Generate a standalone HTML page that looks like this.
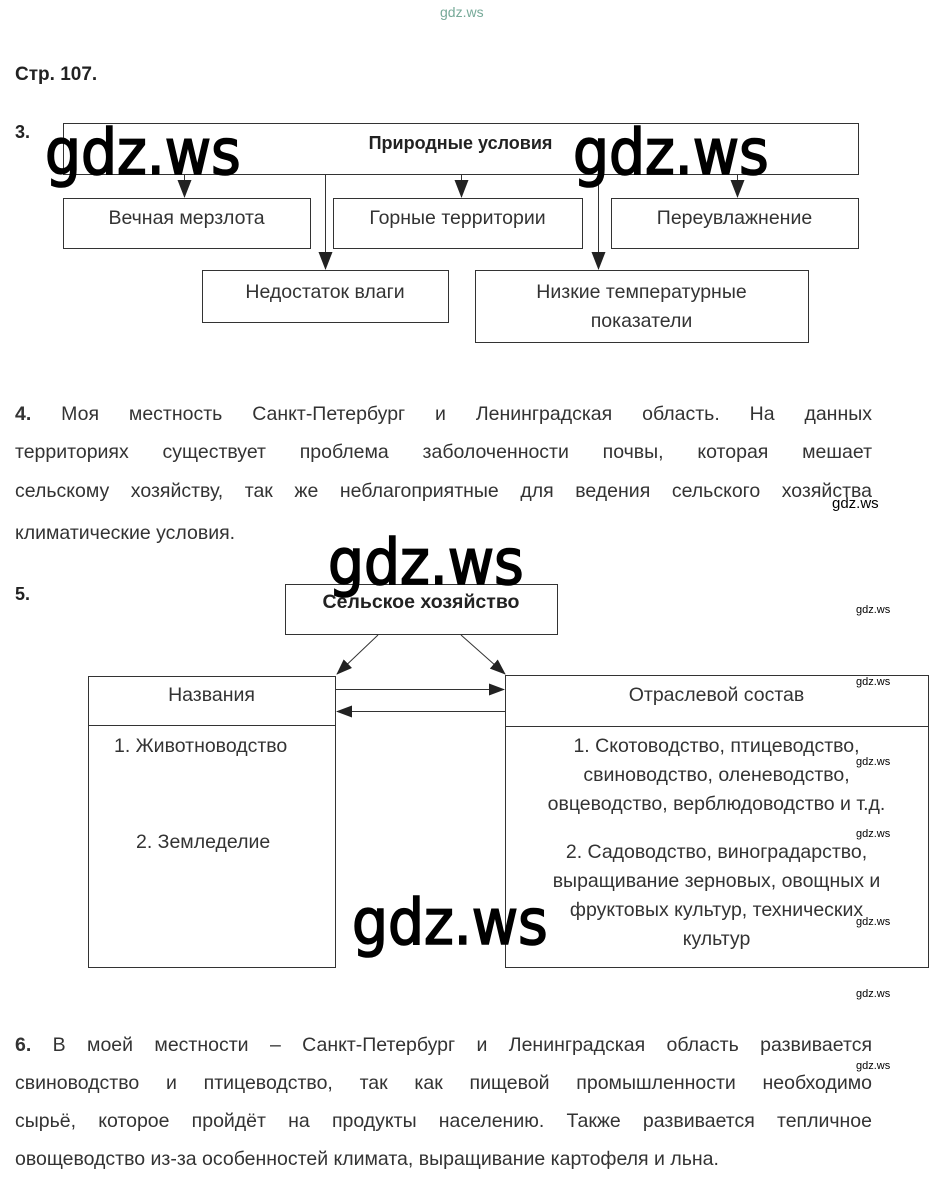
<!DOCTYPE html>
<html><head><meta charset="utf-8"><style>
body{margin:0;width:936px;height:1186px;background:#fff;position:relative;overflow:hidden;font-family:"Liberation Sans",sans-serif;color:#222}
.a{position:absolute;white-space:nowrap}
.t{font-size:19.5px;color:#333}
.j{position:absolute;left:15px;width:857px;font-size:19.5px;color:#333;text-align:justify;text-align-last:justify;white-space:nowrap;line-height:22px}
.c{position:absolute;text-align:center;font-size:19.5px;color:#333;line-height:29px}
.wm{position:absolute;font-size:63px;color:#000;line-height:1;font-family:"DejaVu Sans Condensed","Liberation Sans Narrow","Liberation Sans",sans-serif;-webkit-text-stroke:1.6px #000}
.sw{position:absolute;font-size:11px;color:#000;font-family:"Liberation Sans",sans-serif}
</style></head><body>
<svg class="a" style="left:0;top:0" width="936" height="1186">
<defs><marker id="ar" markerWidth="14" markerHeight="18" refX="7" refY="17" orient="0" markerUnits="userSpaceOnUse"><path d="M0,0 L14,0 L7,18z" fill="#222"/></marker>
<marker id="ar2" markerWidth="16" markerHeight="12" refX="15" refY="6" orient="auto" markerUnits="userSpaceOnUse"><path d="M0,0 L16,6 L0,12z" fill="#222"/></marker></defs>
<g fill="none" stroke="#333" stroke-width="1">
<rect x="63.5" y="123.5" width="795" height="51"/>
<rect x="63.5" y="198.5" width="247" height="50"/>
<rect x="333.5" y="198.5" width="249" height="50"/>
<rect x="611.5" y="198.5" width="247" height="50"/>
<rect x="202.5" y="270.5" width="246" height="52"/>
<rect x="475.5" y="270.5" width="333" height="72"/>
<line x1="184.5" y1="175" x2="184.5" y2="197" marker-end="url(#ar)"/>
<line x1="461.5" y1="175" x2="461.5" y2="197" marker-end="url(#ar)"/>
<line x1="737.5" y1="175" x2="737.5" y2="197" marker-end="url(#ar)"/>
<line x1="325.5" y1="175" x2="325.5" y2="269" marker-end="url(#ar)"/>
<line x1="598.5" y1="175" x2="598.5" y2="269" marker-end="url(#ar)"/>
<rect x="285.5" y="584.5" width="272" height="50"/>
<rect x="88.5" y="676.5" width="247" height="291"/>
<line x1="88" y1="725.5" x2="336" y2="725.5"/>
<rect x="505.5" y="675.5" width="423" height="292"/>
<line x1="505" y1="726.5" x2="929" y2="726.5"/>
<line x1="378" y1="635" x2="337" y2="674" marker-end="url(#ar2)"/>
<line x1="461" y1="635" x2="505" y2="674" marker-end="url(#ar2)"/>
<line x1="336" y1="689.5" x2="504" y2="689.5" marker-end="url(#ar2)"/>
<line x1="505" y1="711.5" x2="337" y2="711.5" marker-end="url(#ar2)"/>
</g></svg>
<div class="sw" style="left:440px;top:4px;font-size:14px;color:#7a9">gdz.ws</div>
<div class="a" style="left:15px;top:64px;font-size:19px;font-weight:bold;color:#222">Стр. 107.</div>
<div class="a" style="left:15px;top:122px;font-size:18px;font-weight:bold">3.</div>
<div class="c" style="left:63px;width:795px;top:129px;font-weight:bold;font-size:18px;color:#222">Природные условия</div>
<div class="c" style="left:63px;width:247px;top:204px">Вечная мерзлота</div>
<div class="c" style="left:333px;width:249px;top:204px">Горные территории</div>
<div class="c" style="left:611px;width:247px;top:204px">Переувлажнение</div>
<div class="c" style="left:202px;width:246px;top:278px">Недостаток влаги</div>
<div class="c" style="left:475px;width:333px;top:278px">Низкие температурные<br>показатели</div>
<div class="wm" style="left:45px;top:121px">gdz.ws</div>
<div class="wm" style="left:573px;top:121px">gdz.ws</div>
<div class="j" style="top:403px"><b>4.</b> Моя местность Санкт-Петербург и Ленинградская область. На данных</div>
<div class="j" style="top:441px">территориях существует проблема заболоченности почвы, которая мешает</div>
<div class="j" style="top:480px">сельскому хозяйству, так же неблагоприятные для ведения сельского хозяйства</div>
<div class="a t" style="left:15px;top:522px">климатические условия.</div>
<div class="sw" style="left:832px;top:495px;font-size:15px">gdz.ws</div>
<div class="wm" style="left:328px;top:531px">gdz.ws</div>
<div class="a" style="left:15px;top:584px;font-size:18px;font-weight:bold">5.</div>
<div class="c" style="left:285px;width:272px;top:588px;font-weight:bold;color:#222">Сельское хозяйство</div>
<div class="c" style="left:88px;width:247px;top:681px">Названия</div>
<div class="c" style="left:505px;width:423px;top:681px">Отраслевой состав</div>
<div class="a t" style="left:114px;top:735px">1. Животноводство</div>
<div class="a t" style="left:136px;top:831px">2. Земледелие</div>
<div class="c" style="left:505px;width:423px;top:732px">1. Скотоводство, птицеводство,<br>свиноводство, оленеводство,<br>овцеводство, верблюдоводство и т.д.</div>
<div class="c" style="left:505px;width:423px;top:838px">2. Садоводство, виноградарство,<br>выращивание зерновых, овощных и<br>фруктовых культур, технических<br>культур</div>
<div class="wm" style="left:352px;top:891px">gdz.ws</div>
<div class="sw" style="left:856px;top:604px">gdz.ws</div>
<div class="sw" style="left:856px;top:676px">gdz.ws</div>
<div class="sw" style="left:856px;top:756px">gdz.ws</div>
<div class="sw" style="left:856px;top:828px">gdz.ws</div>
<div class="sw" style="left:856px;top:916px">gdz.ws</div>
<div class="sw" style="left:856px;top:988px">gdz.ws</div>
<div class="sw" style="left:856px;top:1060px">gdz.ws</div>
<div class="j" style="top:1034px"><b>6.</b> В моей местности – Санкт-Петербург и Ленинградская область развивается</div>
<div class="j" style="top:1072px">свиноводство и птицеводство, так как пищевой промышленности необходимо</div>
<div class="j" style="top:1110px">сырьё, которое пройдёт на продукты населению. Также развивается тепличное</div>
<div class="a t" style="left:15px;top:1148px">овощеводство из-за особенностей климата, выращивание картофеля и льна.</div>
</body></html>
